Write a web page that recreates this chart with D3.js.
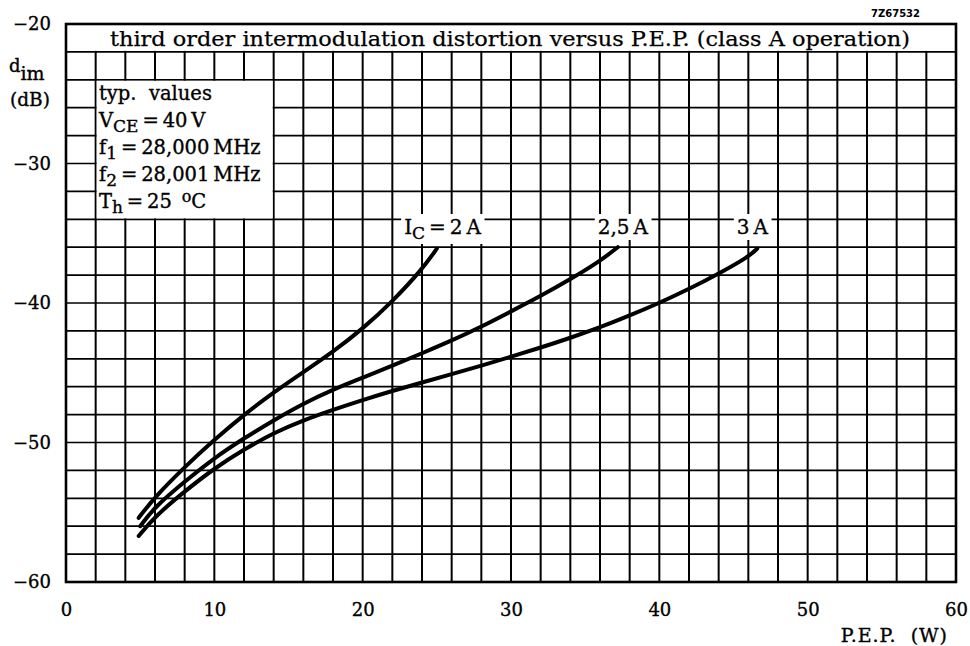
<!DOCTYPE html>
<html>
<head>
<meta charset="utf-8">
<script src="https://cdn.jsdelivr.net/npm/d3@7"></script>
<style>
  body { margin: 0; background: #fff; }
  text { font-family: "DejaVu Serif", "Liberation Serif", serif; fill: #000; stroke: #000; stroke-width: 0.35px; }
</style>
</head>
<body>
<div id="chart"></div>
<script>
// values (P.E.P. in W, d_im in dB)
var pep2 = [4.9, 6, 8, 10, 12, 14, 16, 18, 20, 22, 24, 25];
var dim2 = [-55.4, -53.9, -51.75, -49.8, -48.0, -46.4, -44.95, -43.5, -41.85, -39.9, -37.6, -36.1];

var pep25 = [5, 6, 8, 10, 12, 14, 16, 18, 20, 22, 24, 26, 28, 30, 32, 34, 36, 37.2];
var dim25 = [-56.0, -54.6, -52.8, -51.1, -49.7, -48.4, -47.2, -46.2, -45.35, -44.5, -43.6, -42.7, -41.7, -40.6, -39.5, -38.3, -37.0, -36.0];

var pep3 = [4.9, 6, 8, 10, 12, 14, 16, 18, 20, 22, 24, 26, 28, 30, 32, 34, 36, 38, 40, 42, 44, 46, 46.6];
var dim3 = [-56.7, -55.3, -53.5, -51.85, -50.5, -49.3, -48.4, -47.65, -46.95, -46.3, -45.7, -45.1, -44.5, -43.85, -43.2, -42.5, -41.75, -40.9, -40.0, -39.0, -37.9, -36.7, -36.1];

var xTicks = [0, 10, 20, 30, 40, 50, 60];
var yTicks = [-20, -30, -40, -50, -60];
var title = "third order intermodulation distortion versus P.E.P. (class A operation)";

var width = 970, height = 646;
var svg = d3.select('#chart').append('svg')
  .attr('width', width).attr('height', height);

var x = d3.scaleLinear().domain([0, 60]).range([66, 956]);
var y = d3.scaleLinear().domain([-60, -20]).range([582, 24]);

// grid
var grid = svg.append('g');
grid.selectAll('.vline').data(d3.range(0, 61, 2)).enter()
  .append('line').attr('class', 'vline')
  .attr('x1', function(d){ return x(d); }).attr('x2', function(d){ return x(d); })
  .attr('y1', y(-20)).attr('y2', y(-60))
  .attr('stroke', '#000').attr('stroke-width', 2);
grid.selectAll('.hline').data(d3.range(-60, -19, 2)).enter()
  .append('line').attr('class', 'hline')
  .attr('x1', x(0)).attr('x2', x(60))
  .attr('y1', function(d){ return y(d); }).attr('y2', function(d){ return y(d); })
  .attr('stroke', '#000').attr('stroke-width', 1.7);

// white boxes for the title band and the conditions box
svg.append('rect')
  .attr('x', x(0) + 1).attr('y', y(-20) + 1)
  .attr('width', x(60) - x(0) - 2).attr('height', y(-22) - y(-20) - 2)
  .attr('fill', '#fff');
svg.append('rect')
  .attr('x', x(2) + 1).attr('y', y(-24) + 1)
  .attr('width', x(14) - x(2) - 2).attr('height', y(-34) - y(-24) - 2)
  .attr('fill', '#fff');

// frame
svg.append('rect')
  .attr('x', x(0)).attr('y', y(-20))
  .attr('width', x(60) - x(0)).attr('height', y(-60) - y(-20))
  .attr('fill', 'none').attr('stroke', '#000').attr('stroke-width', 2.6);

svg.append('text')
  .attr('x', 510).attr('y', 46)
  .attr('text-anchor', 'middle').style('font-size', '21px').style('stroke-width', '0.25px')
  .attr('textLength', 800).attr('lengthAdjust', 'spacingAndGlyphs')
  .text(title);

// curves
var line = d3.line()
  .x(function(d){ return x(d[0]); })
  .y(function(d){ return y(d[1]); })
  .curve(d3.curveBasis);
var series = [d3.zip(pep2, dim2), d3.zip(pep25, dim25), d3.zip(pep3, dim3)];
svg.append('g').selectAll('path').data(series).enter()
  .append('path')
  .attr('d', line)
  .attr('fill', 'none').attr('stroke', '#000')
  .attr('stroke-width', 4).attr('stroke-linecap', 'round');

// curve labels with white backgrounds
function label(px, py, parts){
  var g = svg.append('g');
  var bg = g.append('rect').attr('fill', '#fff');
  var t = g.append('text').attr('x', px).attr('y', py)
    .attr('text-anchor', 'end').style('font-size', '20px');
  parts.forEach(function(p){
    var ts = t.append('tspan').text(p.t);
    if(p.sub) ts.attr('dy', 5).style('font-size', '17px');
    if(p.back) ts.attr('dy', -5);
  });
  var b = t.node().getBBox();
  bg.attr('x', b.x - 3).attr('y', b.y - 1).attr('width', b.width + 6).attr('height', b.height + 2);
}
label(481, 234, [{t: 'I'}, {t: 'C', sub: true}, {t: '\u2009=\u20092\u2009A', back: true}]);
label(648, 234, [{t: '2,5\u2009A'}]);
label(768, 234, [{t: '3\u2009A'}]);

// conditions text
var info = svg.append('g').style('font-size', '19.5px');
info.append('text').attr('x', 99).attr('y', 100).attr('xml:space', 'preserve').text('typ.  values');
var t1 = info.append('text').attr('x', 99).attr('y', 127);
t1.append('tspan').text('V');
t1.append('tspan').attr('dy', 5).style('font-size', '17px').text('CE');
t1.append('tspan').attr('dy', -5).text('\u2009=\u200940\u2009V');
var t2 = info.append('text').attr('x', 99).attr('y', 154);
t2.append('tspan').text('f');
t2.append('tspan').attr('dy', 5).style('font-size', '17px').text('1');
t2.append('tspan').attr('dy', -5).text('\u2009=\u200928,000\u2009MHz');
var t3 = info.append('text').attr('x', 99).attr('y', 181);
t3.append('tspan').text('f');
t3.append('tspan').attr('dy', 5).style('font-size', '17px').text('2');
t3.append('tspan').attr('dy', -5).text('\u2009=\u200928,001\u2009MHz');
var t4 = info.append('text').attr('x', 99).attr('y', 208);
t4.append('tspan').text('T');
t4.append('tspan').attr('dy', 5).style('font-size', '17px').text('h');
t4.append('tspan').attr('dy', -5).text('\u2009=\u200925\u2002');
t4.append('tspan').attr('dy', -6).style('font-size', '16px').text('o');
t4.append('tspan').attr('dy', 6).text('C');

// axes (labels only)
var yAxis = d3.axisLeft(y).tickValues(yTicks).tickSize(0).tickPadding(0)
  .tickFormat(function(d){ return '\u2212' + Math.abs(d); });
var gy = svg.append('g').attr('transform', 'translate(51,0)').call(yAxis);
gy.select('.domain').remove();
gy.selectAll('text').style('font-family', '"DejaVu Serif", serif').style('font-size', '18px').attr('fill', '#000');

var xAxis = d3.axisBottom(x).tickValues(xTicks).tickSize(0).tickPadding(0);
var gx = svg.append('g').attr('transform', 'translate(0,603)').call(xAxis);
gx.select('.domain').remove();
gx.selectAll('text').style('font-family', '"DejaVu Serif", serif').style('font-size', '18px').attr('fill', '#000');

// axis titles
var dl = svg.append('text').attr('x', 9).attr('y', 72).style('font-size', '18px');
dl.append('tspan').text('d');
dl.append('tspan').attr('dy', 8).style('font-size', '19px').text('im');
svg.append('text').attr('x', 10).attr('y', 106).style('font-size', '18.5px').text('(dB)');
svg.append('text').attr('x', 948).attr('y', 642).attr('text-anchor', 'end')
  .attr('xml:space', 'preserve')
  .style('font-size', '19px').style('letter-spacing', '1px').text('P.E.P.  (W)');

svg.append('text').attr('x', 920).attr('y', 17).attr('text-anchor', 'end')
  .style('font-family', '"DejaVu Sans", sans-serif').style('font-weight', 'bold')
  .style('stroke-width', 0)
  .style('font-size', '10px').text('7Z67532');
</script>
</body>
</html>
